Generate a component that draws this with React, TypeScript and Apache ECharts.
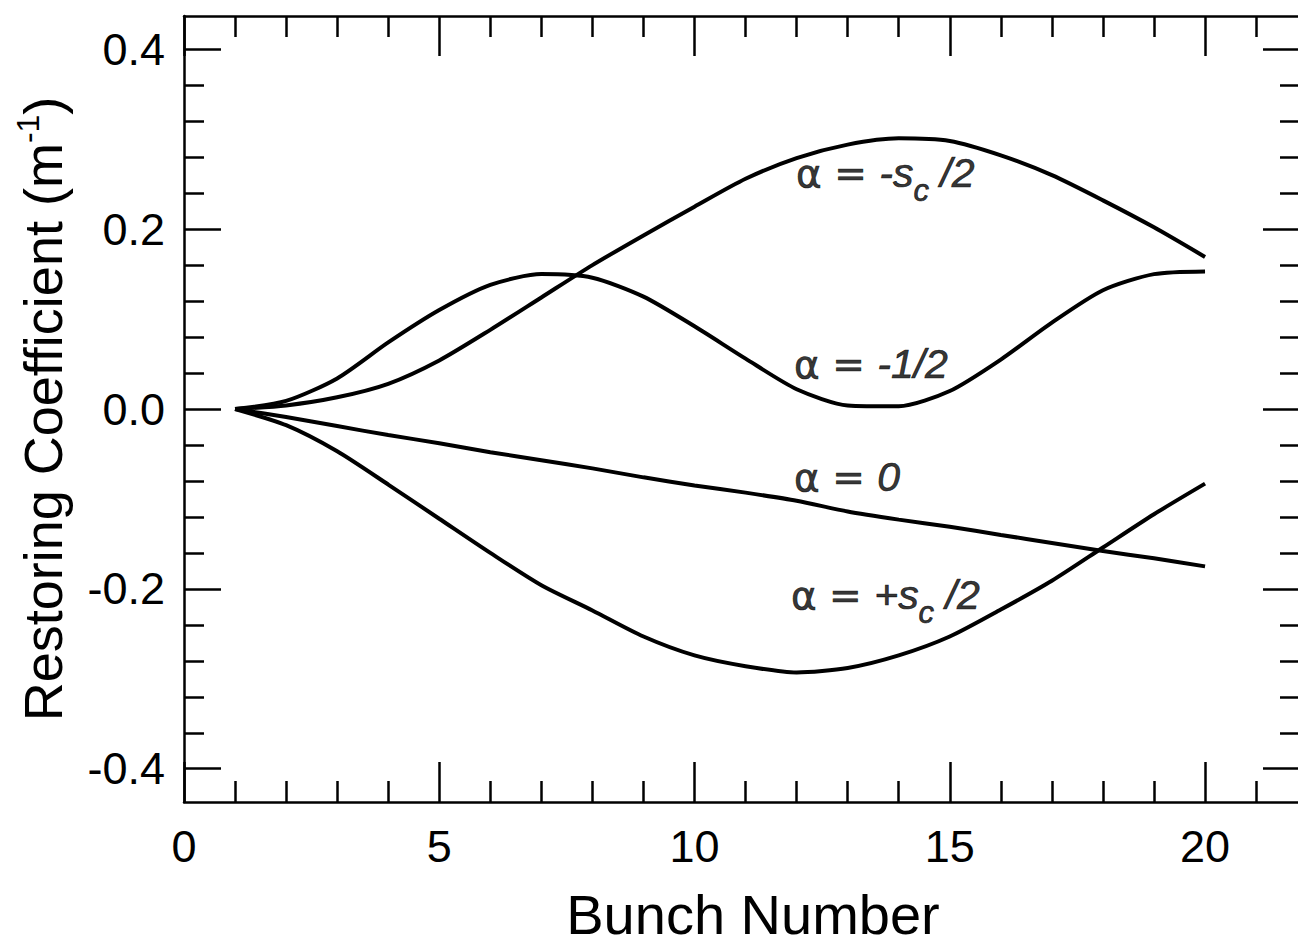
import React, { useEffect, useRef } from "react";
import * as echarts from "echarts";

// Bunch numbers (x values)
const bunch = [1, 2, 3, 4, 5, 6, 7, 8, 9, 10, 11, 12, 13, 14, 15, 16, 17, 18, 19, 20];

// Restoring coefficient (m^-1) for each alpha
const alphaMinusSc = [0, 0.004, 0.013, 0.028, 0.054, 0.088, 0.124, 0.16, 0.193, 0.225, 0.256, 0.279, 0.294, 0.301, 0.298, 0.282, 0.26, 0.232, 0.202, 0.169];
const alphaMinusHalf = [0, 0.009, 0.034, 0.074, 0.11, 0.138, 0.15, 0.146, 0.125, 0.092, 0.056, 0.022, 0.004, 0.003, 0.02, 0.055, 0.096, 0.132, 0.15, 0.153];
const alphaZero = [0, -0.009, -0.019, -0.029, -0.038, -0.048, -0.057, -0.066, -0.076, -0.085, -0.093, -0.102, -0.114, -0.123, -0.131, -0.14, -0.149, -0.158, -0.166, -0.175];
const alphaPlusSc = [0, -0.018, -0.047, -0.084, -0.122, -0.16, -0.196, -0.224, -0.253, -0.274, -0.286, -0.293, -0.288, -0.274, -0.253, -0.223, -0.191, -0.154, -0.117, -0.083];

// Axis ranges and ticks
const X_MIN = 0;
const X_MAX = 21.86;
const Y_MIN = -0.437;
const Y_MAX = 0.437;
const xMajorTicks = [0, 5, 10, 15, 20];
const xMinorTicks = [1, 2, 3, 4, 6, 7, 8, 9, 11, 12, 13, 14, 16, 17, 18, 19, 21];
const yMajorTicks = [-0.4, -0.2, 0, 0.2, 0.4];
const yMinorTicks = [-0.36, -0.32, -0.28, -0.24, -0.16, -0.12, -0.08, -0.04, 0.04, 0.08, 0.12, 0.16, 0.24, 0.28, 0.32, 0.36];

// Curve annotations (anchored in data coordinates)
const labelTexts = [
  "{g|α = }{i|-s}{sub|c}{i| /2}",
  "{g|α = }{i|-1/2}",
  "{g|α = }{i|0}",
  "{g|α = }{i|+s}{sub|c}{i| /2}",
];
const labelX = [11.99, 11.95, 11.95, 11.89];
const labelY = [0.262, 0.05, -0.076, -0.207];

const xTitle = "Bunch Number";
const yTitle = "{t|Restoring Coefficient (m}{sup|-1}{t|)}";

const FONT = "'Liberation Sans', Arial, Helvetica, sans-serif";
const BLACK = "#000";

export default function App() {
  const ref = useRef<HTMLDivElement>(null);

  useEffect(() => {
    if (!ref.current) return;
    document.documentElement.style.overflow = "hidden";
    document.body.style.overflow = "hidden";
    document.body.style.margin = "0";
    const chart = echarts.init(ref.current, undefined, { renderer: "svg" });

    const lineStyle = { color: BLACK, width: 2.5 };
    const majorTickX = { show: true, inside: true, length: 40, lineStyle };
    const minorTickX = { show: true, inside: true, length: 21, lineStyle };
    const majorTickY = { show: true, inside: true, length: 37, lineStyle };
    const minorTickY = { show: true, inside: true, length: 20, lineStyle };

    const shownLine = { show: true, onZero: false, lineStyle };
    const hiddenLine = { show: false, onZero: false };

    const baseX: any = {
      type: "value",
      min: X_MIN,
      max: X_MAX,
      splitLine: { show: false },
      axisLine: shownLine,
      axisLabel: { show: false },
    };
    const baseY: any = {
      type: "value",
      min: Y_MIN,
      max: Y_MAX,
      splitLine: { show: false },
      axisLine: shownLine,
      axisLabel: { show: false },
    };

    const seriesStyle = { color: BLACK, width: 4 };
    const mkLine = (name: string, values: number[]) => ({
      name,
      type: "line",
      xAxisIndex: 0,
      yAxisIndex: 0,
      symbol: "none",
      silent: true,
      smooth: 0.25,
      lineStyle: seriesStyle,
      itemStyle: { color: BLACK },
      data: bunch.map((b, i) => [b, values[i]]),
    });

    const textBold = { textBorderColor: BLACK, textBorderWidth: 0.7 };

    const option: any = {
      animation: false,
      backgroundColor: "#fff",
      grid: { left: 184, right: 6, top: 16, bottom: 143, containLabel: false },
      xAxis: [
        {
          ...baseX,
          position: "bottom",
          axisTick: { ...majorTickX, customValues: xMajorTicks },
          axisLabel: {
            show: true,
            customValues: xMajorTicks,
            fontSize: 45,
            fontFamily: FONT,
            color: BLACK,
            margin: 22,
          },
          name: xTitle,
          nameLocation: "middle",
          nameGap: 84,
          nameTextStyle: { fontSize: 56, fontFamily: FONT, color: BLACK, padding: [0, 0, 0, 22] },
        },
        { ...baseX, position: "bottom", axisLine: hiddenLine, axisTick: { ...minorTickX, customValues: xMinorTicks } },
        { ...baseX, position: "top", axisTick: { ...majorTickX, customValues: xMajorTicks } },
        { ...baseX, position: "top", axisLine: hiddenLine, axisTick: { ...minorTickX, customValues: xMinorTicks } },
      ],
      yAxis: [
        {
          ...baseY,
          position: "left",
          axisTick: { ...majorTickY, customValues: yMajorTicks },
          axisLabel: {
            show: true,
            customValues: yMajorTicks,
            fontSize: 45,
            fontFamily: FONT,
            color: BLACK,
            margin: 19,
            formatter: (v: number) => v.toFixed(1),
          },
          name: yTitle,
          nameLocation: "middle",
          nameGap: 110,
          nameTextStyle: {
            color: BLACK,
            rich: {
              t: { fontSize: 54, fontFamily: FONT, color: BLACK, lineHeight: 62 },
              sup: { fontSize: 32, fontFamily: FONT, color: BLACK, lineHeight: 22, verticalAlign: "top" },
            },
          },
        },
        { ...baseY, position: "left", axisLine: hiddenLine, axisTick: { ...minorTickY, customValues: yMinorTicks } },
        { ...baseY, position: "right", axisTick: { ...majorTickY, customValues: yMajorTicks } },
        { ...baseY, position: "right", axisLine: hiddenLine, axisTick: { ...minorTickY, customValues: yMinorTicks } },
      ],
      series: [
        mkLine("α = -sc/2", alphaMinusSc),
        mkLine("α = -1/2", alphaMinusHalf),
        mkLine("α = 0", alphaZero),
        mkLine("α = +sc/2", alphaPlusSc),
        {
          name: "labels",
          type: "scatter",
          xAxisIndex: 0,
          yAxisIndex: 0,
          symbolSize: 0,
          silent: true,
          itemStyle: { color: "transparent" },
          label: {
            show: true,
            position: "right",
            distance: 0,
            color: BLACK,
            rich: {
              g: { fontFamily: "'DejaVu Sans', sans-serif", fontSize: 39, color: BLACK, lineHeight: 44, ...textBold },
              i: { fontFamily: FONT, fontStyle: "italic", fontSize: 41, color: BLACK, lineHeight: 44, ...textBold },
              sub: {
                fontFamily: FONT,
                fontStyle: "italic",
                fontSize: 31,
                color: BLACK,
                lineHeight: 8,
                padding: [34, 0, 0, 0],
                ...textBold,
              },
            },
          },
          data: labelTexts.map((t, i) => ({
            value: [labelX[i], labelY[i]],
            label: { formatter: t },
          })),
        },
      ],
    };

    chart.setOption(option);
    return () => chart.dispose();
  }, []);

  return (
    <div
      ref={ref}
      style={{ position: "fixed", left: 0, top: 0, width: 1306, height: 947, background: "#fff" }}
    />
  );
}
